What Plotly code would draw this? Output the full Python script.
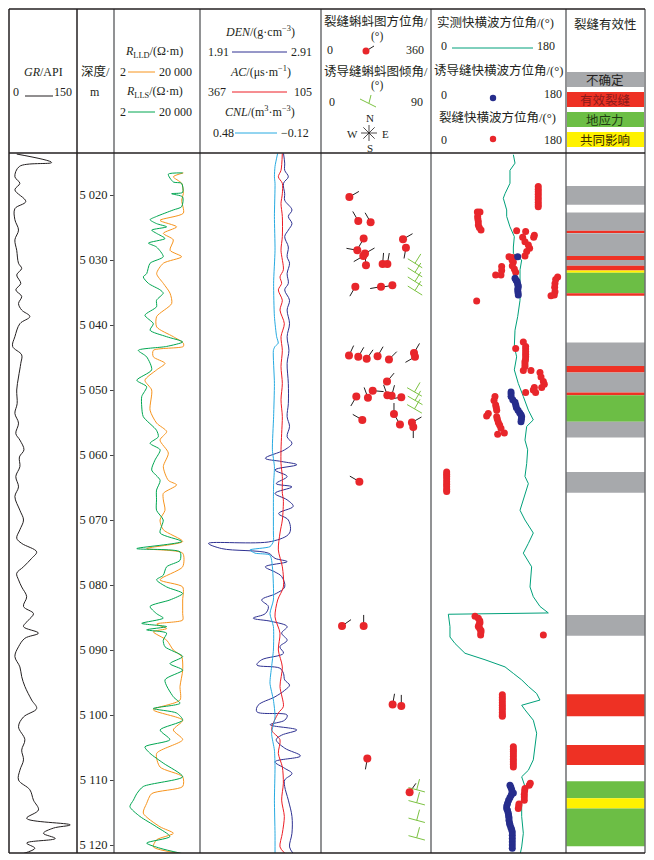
import math
import plotly.graph_objects as go

# ---------------- data ----------------
DEPTH_TICKS = [5020, 5030, 5040, 5050, 5060, 5070, 5080, 5090, 5100, 5110, 5120]
DEPTH_LABELS = ["5 020", "5 030", "5 040", "5 050", "5 060", "5 070", "5 080", "5 090", "5 100", "5 110", "5 120"]

GR_DEPTH = [5013.7, 5015.0, 5015.6, 5017.2, 5018.2, 5019.2, 5021.0, 5022.1, 5023.8, 5025.4,
            5026.9, 5028.5, 5030.5, 5031.3, 5032.3, 5033.6, 5034.6, 5035.6, 5036.7, 5037.7,
            5038.7, 5039.8, 5041.8, 5043.3, 5044.6, 5045.9, 5048.0, 5050.0, 5052.1, 5053.6,
            5055.1, 5056.7, 5057.7, 5059.2, 5060.3, 5061.8, 5063.3, 5064.9, 5066.4,
            5068.5, 5070.0, 5071.5, 5072.8, 5073.6, 5074.9, 5075.9, 5077.2, 5078.2, 5079.2,
            5080.3, 5081.8, 5083.3, 5084.4, 5085.4, 5086.4, 5087.4, 5088.2, 5089.5, 5091.0,
            5092.6, 5094.1, 5095.6, 5097.7, 5099.0, 5100.3, 5101.8, 5103.8, 5105.4, 5106.9,
            5108.5, 5110.0, 5111.5, 5113.1, 5114.6, 5115.9, 5116.9, 5117.4, 5118.2, 5119.0,
            5119.7, 5120.5, 5121.3]
GR_API = [17, 94, 23, 13, 24, 13, 37, 13, 13, 21,
          13, 17, 21, 28, 17, 26, 15, 28, 21, 28,
          46, 24, 13, 8, 28, 26, 21, 17, 18, 13,
          21, 15, 24, 33, 23, 24, 15, 21, 13,
          24, 32, 24, 17, 28, 61, 50, 32, 17, 21,
          28, 39, 32, 54, 43, 32, 65, 35, 21, 13,
          24, 28, 35, 50, 61, 32, 21, 35, 28, 32,
          24, 21, 46, 54, 65, 39, 135, 98, 76, 102,
          39, 57, 32]

LLS_DEPTH = [5016.6, 5016.8, 5018.0, 5018.2, 5019.6, 5019.8, 5020.3, 5021.8, 5022.3, 5023.3,
             5023.8, 5024.4, 5024.9, 5025.4, 5025.9, 5026.7, 5027.4, 5028.0, 5029.5, 5030.5,
             5032.1, 5032.6, 5033.6, 5034.6, 5035.1, 5036.2, 5037.2, 5038.5, 5039.8, 5040.8,
             5041.8, 5042.6, 5043.3, 5043.9, 5044.9, 5046.9, 5048.5, 5049.5, 5051.0, 5052.6,
             5054.1, 5056.2, 5057.2, 5058.2, 5059.2, 5060.8, 5062.3, 5063.9, 5065.4, 5066.9,
             5068.5, 5070.0, 5072.0, 5073.3, 5074.4, 5074.9, 5076.2, 5077.2, 5078.5, 5079.2,
             5080.3, 5081.3, 5082.3, 5083.3, 5084.4, 5085.1, 5085.9, 5086.4, 5086.9, 5087.4,
             5088.5, 5089.5, 5091.0, 5092.1, 5093.1, 5094.6, 5097.2, 5098.2, 5099.0, 5099.7,
             5100.8, 5102.3, 5103.8, 5104.9, 5105.9, 5107.4, 5109.5, 5111.0, 5112.1, 5113.1,
             5114.1, 5115.6, 5117.2, 5118.7, 5119.7, 5120.5, 5121.3]
LLS_OHM = [3130, 670, 1150, 2800, 3130, 960, 3130, 2800, 1150, 190,
           95, 190, 560, 113, 190, 470, 80, 190, 390, 95,
           66, 46, 80, 280, 390, 190, 190, 55, 135, 95,
           560, 3130, 560, 27, 66, 113, 23, 66, 39, 39,
           46, 190, 230, 95, 280, 160, 113, 280, 190, 190,
           190, 390, 280, 2800, 23, 2350, 2350, 560, 390, 190,
           560, 3130, 800, 95, 190, 390, 39, 560, 66, 560,
           390, 470, 3130, 800, 3130, 470, 1150, 2350, 135, 1640,
           3130, 280, 800, 55, 95, 390, 3130, 46, 23, 16,
           11, 32, 190, 800, 66, 280, 2800]

LLD_DEPTH = [5016.6, 5017.2, 5018.2, 5019.8, 5020.8, 5022.8, 5023.9, 5024.9, 5025.9, 5026.9,
             5028.5, 5029.5, 5030.5, 5032.1, 5033.6, 5035.1, 5036.7, 5038.7, 5040.3, 5041.8,
             5042.8, 5043.3, 5043.9, 5044.9, 5045.9, 5046.9, 5048.5, 5050.0, 5053.1, 5055.1,
             5056.4, 5057.7, 5059.7, 5061.8, 5063.9, 5064.6, 5065.9, 5066.9, 5068.5, 5070.0,
             5071.5, 5073.3, 5074.4, 5075.1, 5077.2, 5079.2, 5080.3, 5082.3, 5084.4, 5085.4,
             5086.0, 5086.7, 5087.2, 5088.5, 5090.0, 5091.0, 5093.1, 5095.6, 5097.7, 5099.2,
             5100.8, 5102.3, 5103.8, 5105.9, 5108.0, 5109.5, 5111.0, 5112.1, 5113.6, 5115.1,
             5117.2, 5118.2, 5119.2, 5120.3, 5121.3]
LLD_OHM = [3360, 1150, 2800, 3360, 2800, 3360, 276, 1640, 394, 1150,
           805, 2800, 394, 193, 394, 805, 962, 193, 193, 1150,
           3360, 3360, 135, 135, 471, 193, 55, 113, 95, 193,
           564, 276, 673, 394, 673, 1644, 394, 394, 471, 276,
           394, 3130, 66, 3130, 3130, 276, 3130, 3130, 3130, 3130,
           193, 564, 135, 564, 1150, 2800, 3130, 2350, 2350, 135,
           3130, 1150, 3130, 193, 276, 3130, 3130, 113, 66, 46,
           276, 1150, 193, 135, 2350]

DEN_DEPTH = [5013.6, 5015.1, 5016.2, 5017.2, 5018.2, 5019.8, 5020.8, 5022.3, 5023.3, 5024.4,
             5025.4, 5026.4, 5028.0, 5029.5, 5030.5, 5032.1, 5033.6, 5034.6, 5036.2, 5037.7,
             5039.8, 5041.8, 5043.9, 5045.9, 5049.0, 5052.1, 5054.1, 5055.6, 5057.2, 5058.2,
             5059.2, 5060.5, 5061.0, 5061.5, 5062.3, 5063.3, 5064.4, 5064.9, 5065.9,
             5066.9, 5067.9, 5069.0, 5070.0, 5072.0, 5073.3, 5073.6, 5074.4, 5075.1, 5075.9,
             5076.4, 5077.2, 5078.0, 5078.7, 5080.3, 5081.3, 5082.3, 5083.3, 5084.4, 5085.1,
             5085.6, 5086.4, 5087.4, 5088.5, 5089.5, 5090.5, 5091.5, 5092.3, 5092.8, 5093.6,
             5094.6, 5095.4, 5096.2, 5097.2, 5098.5, 5099.5, 5100.0, 5100.8, 5101.5, 5102.3,
             5103.1, 5103.8, 5105.1, 5106.3, 5107.2, 5108.2, 5109.0, 5110.0, 5111.0, 5113.1,
             5115.6, 5118.2, 5120.3, 5121.3]
DEN_G = [2.60, 2.61, 2.61, 2.64, 2.60, 2.61, 2.61, 2.67, 2.64, 2.67,
         2.64, 2.61, 2.64, 2.63, 2.65, 2.63, 2.64, 2.61, 2.65, 2.63,
         2.65, 2.63, 2.645, 2.63, 2.64, 2.64, 2.63, 2.65, 2.63, 2.67,
         2.61, 2.45, 2.585, 2.71, 2.53, 2.63, 2.54, 2.67, 2.53,
         2.63, 2.68, 2.56, 2.64, 2.65, 2.50, 1.98, 2.09, 2.475, 2.53,
         2.63, 2.45, 2.53, 2.585, 2.61, 2.54, 2.42, 2.475, 2.45, 2.35,
         2.50, 2.63, 2.585, 2.63, 2.57, 2.60, 2.42, 2.38, 2.57, 2.60,
         2.61, 2.65, 2.61, 2.53, 2.39, 2.38, 2.63, 2.61, 2.49, 2.71,
         2.585, 2.54, 2.61, 2.74, 2.53, 2.61, 2.67, 2.61, 2.61, 2.64,
         2.67, 2.67, 2.65, 2.68]

AC_DEPTH = [5013.6, 5016.2, 5017.2, 5018.2, 5019.8, 5021.3, 5023.3, 5026.4, 5028.5, 5031.5,
            5032.6, 5033.6, 5034.6, 5036.2, 5037.7, 5039.8, 5041.8, 5043.9, 5046.4, 5049.0,
            5051.5, 5054.1, 5056.7, 5059.2, 5061.3, 5063.3, 5065.9,
            5066.9, 5070.0, 5072.0, 5074.6, 5077.2, 5080.3, 5082.3, 5084.9, 5087.4, 5090.0,
            5092.6, 5095.6, 5098.7, 5099.7, 5102.3, 5103.8, 5105.9, 5108.0, 5110.5, 5113.1,
            5115.6, 5118.2, 5120.3, 5121.3]
AC_US = [188.7, 191.6, 197.4, 188.7, 188.7, 191.6, 188.7, 188.7, 191.6, 186.5,
         193.8, 190.2, 197.4, 188.7, 193.8, 184.4, 191.6, 188.7, 191.6, 188.7,
         191.6, 188.7, 190.2, 191.6, 191.6, 188.7, 188.7,
         186.5, 188.7, 193.8, 197.4, 188.7, 186.5, 198.8, 204.6, 193.8, 197.4,
         188.7, 193.8, 186.5, 197.4, 211.8, 193.8, 197.4, 188.7, 186.5, 190.2,
         184.4, 188.7, 193.8, 183.0]

CNL_DEPTH = [5013.6, 5015.6, 5017.2, 5018.2, 5023.3, 5028.5, 5033.6, 5038.7, 5041.8, 5042.8,
             5043.3, 5043.9, 5049.0, 5054.1, 5059.2, 5061.8, 5064.4,
             5066.9, 5072.0, 5073.3, 5074.1, 5074.6, 5075.1, 5075.4, 5077.2, 5082.3, 5084.4,
             5086.4, 5090.0, 5092.6, 5095.1, 5097.7, 5100.3, 5102.8, 5105.4, 5108.0, 5113.1,
             5118.2, 5121.3]
CNL_V = [0.095, 0.108, 0.111, 0.108, 0.111, 0.108, 0.115, 0.111, 0.100, 0.092,
         0.108, 0.116, 0.111, 0.115, 0.121, 0.111, 0.115,
         0.116, 0.116, 0.116, 0.133, 0.232, 0.207, 0.133, 0.121, 0.116, 0.133,
         0.116, 0.116, 0.125, 0.133, 0.116, 0.108, 0.125, 0.111, 0.108, 0.111,
         0.108, 0.108]

# fracture tadpoles: depth, dip (deg), azimuth (deg)
FRAC_TAD_DEPTH = [5020.3, 5024.0, 5024.2, 5026.7, 5028.5, 5029.0, 5029.4, 5030.8, 5030.6, 5030.6,
                  5026.8, 5028.1, 5034.1, 5034.1, 5033.9, 5044.7, 5044.9, 5045.2, 5044.8, 5045.3,
                  5044.3, 5044.9, 5048.7, 5051.0, 5051.2, 5050.1, 5050.8, 5050.9, 5051.1, 5054.6,
                  5053.7, 5055.3, 5055.0, 5055.7, 5064.1, 5086.3, 5086.3, 5098.4, 5098.6, 5106.7,
                  5111.9]
FRAC_TAD_DIP = [23.2, 30.5, 40.6, 34.9, 29.7, 36.0, 34.6, 36.8, 50.4, 54.3,
                67.1, 69.5, 28.1, 49.1, 58.4, 22.9, 30.5, 37.4, 46.3, 55.6,
                76.1, 76.9, 54.0, 28.9, 38.4, 42.3, 54.3, 57.8, 65.7, 33.8,
                59.7, 64.6, 74.4, 75.5, 31.4, 17.2, 34.9, 58.6, 65.7, 37.9,
                72.5]
FRAC_TAD_AZI = [60, 330, 330, 210, 280, 60, 240, 355, 5, 10,
                60, 190, 210, 260, 260, 25, 30, 35, 30, 45,
                30, 240, 40, 210, 340, 95, 340, 15, 260, 300,
                0, 330, 60, 180, 300, 55, 0, 10, 0, 190,
                35]

# induced fracture symbols: depth, dip, azimuth
IND_DEPTH = [5030.5, 5031.9, 5033.3, 5034.7, 5050.3, 5051.6, 5052.9, 5111.5, 5113.5, 5116.2, 5118.9]
IND_DIP = [76.9, 76.9, 76.9, 76.9, 76.5, 77.0, 76.5, 78.3, 78.3, 78.3, 78.3]
IND_AZI = [32, 32, 32, 32, 30, 30, 30, 15, 15, 15, 15]

# measured fast shear-wave azimuth
FS_DEPTH = [5013.8, 5015.1, 5016.2, 5018.2, 5019.8, 5020.5, 5022.3, 5023.3, 5024.9, 5026.4,
            5028.0, 5029.0, 5030.0, 5031.5, 5033.6, 5036.2, 5038.7, 5040.8, 5043.3, 5044.9,
            5046.9, 5049.0, 5051.0, 5053.1, 5054.6, 5055.6, 5057.7, 5059.2, 5061.3, 5063.3,
            5064.4, 5066.4, 5068.5, 5070.0, 5072.0, 5073.6, 5075.1, 5077.2, 5080.3, 5081.8,
            5083.3, 5084.3, 5084.5, 5086.4, 5088.0, 5089.0, 5090.5, 5091.5, 5092.6, 5093.6,
            5094.6, 5095.6, 5096.7, 5097.7, 5098.5, 5099.2, 5100.8, 5102.8, 5104.9, 5106.9,
            5108.5, 5109.5, 5111.0, 5113.1, 5115.6, 5118.2, 5120.3, 5121.5]
FS_AZI = [109.8, 112.0, 105.3, 105.3, 98.7, 96.4, 100.9, 100.9, 105.3, 111.1,
          109.8, 109.8, 120.9, 118.7, 118.7, 118.7, 115.6, 112.0, 111.1, 114.2,
          111.1, 116.4, 123.1, 129.8, 136.4, 127.6, 125.3, 128.9, 127.6, 125.3,
          129.8, 124.4, 118.7, 125.3, 136.4, 129.8, 123.1, 134.2, 132.0, 136.4,
          145.3, 156.4, 23.1, 25.3, 25.3, 32.0, 45.3, 72.0, 98.7, 109.8,
          120.9, 129.8, 140.9, 145.3, 120.9, 125.3, 136.4, 140.9, 138.7, 136.4,
          129.8, 120.9, 125.3, 120.9, 120.9, 123.1, 120.9, 118.7]

# induced-fracture fast shear-wave azimuth (blue dots)
IND_FS_DEPTH = [5029.5, 5032.8, 5033.1, 5033.3, 5033.7, 5034.0, 5034.3, 5034.6, 5035.0, 5035.4,
                5050.3, 5050.6, 5051.0, 5051.5, 5051.9, 5052.3, 5052.7, 5053.1, 5053.5, 5053.8,
                5054.1, 5054.5, 5054.9,
                5110.8, 5111.1, 5111.5, 5112.0, 5112.3, 5112.7, 5113.1, 5113.6, 5114.0, 5114.4,
                5114.7, 5115.1, 5115.5, 5115.8, 5116.2, 5116.6, 5116.9, 5117.3, 5117.6, 5118.0,
                5118.5, 5119.0, 5119.5, 5120.0, 5120.5]
IND_FS_AZI = [115.6, 112.0, 113.5, 114.7, 115.5, 116.4, 116.0, 115.6, 116.0, 116.4,
              106.7, 106.7, 106.7, 109.0, 112.0, 113.0, 113.8, 116.0, 118.2, 120.0,
              120.9, 120.5, 120.0,
              105.3, 106.5, 107.6, 109.8, 107.0, 105.3, 103.5, 102.0, 101.0, 100.9,
              102.0, 103.1, 103.5, 104.0, 104.0, 104.7, 105.3, 106.5, 107.5, 108.4,
              108.4, 108.4, 108.4, 108.4, 108.4]

# fracture fast shear-wave azimuth (red dots)
FRAC_FS_DEPTH = [5018.7, 5019.1, 5019.5, 5019.9, 5020.3, 5020.7, 5021.1, 5021.5, 5021.8,
                 5022.6, 5022.6, 5023.3, 5023.7, 5024.1, 5024.6, 5025.0, 5025.4,
                 5025.5, 5025.6, 5026.2, 5026.5, 5026.5, 5027.2, 5027.7, 5028.2, 5028.7, 5029.4,
                 5029.5, 5029.6, 5030.0, 5030.3, 5030.9, 5031.4, 5031.9,
                 5031.0, 5031.6, 5032.3, 5032.3,
                 5032.6, 5033.0, 5033.6, 5034.2, 5034.9, 5035.4, 5035.5,
                 5036.3,
                 5042.6, 5043.6, 5043.3, 5043.7, 5044.1, 5044.5, 5044.9, 5045.3, 5045.6, 5046.0,
                 5046.4, 5047.0, 5047.0,
                 5047.3, 5048.0, 5048.7, 5049.1, 5049.6, 5049.6, 5050.0, 5050.4, 5050.4,
                 5051.0, 5051.6, 5052.3, 5052.7, 5053.1, 5053.6, 5054.0, 5054.1, 5054.5, 5055.0,
                 5055.4, 5055.9, 5056.6, 5056.8,
                 5062.6, 5062.95, 5063.3, 5063.7, 5064.1, 5064.5, 5064.9, 5065.3, 5065.6,
                 5084.8, 5085.1, 5085.5, 5085.8, 5086.1, 5086.4, 5086.7, 5087.0, 5087.3, 5087.7,
                 5087.7,
                 5096.9, 5097.3, 5097.7, 5098.1, 5098.5, 5098.9, 5099.2, 5099.6, 5100.0, 5100.2,
                 5104.9, 5105.3, 5105.6, 5106.0, 5106.4, 5106.8, 5107.2, 5107.6, 5108.0,
                 5110.5, 5110.8, 5111.3, 5111.7, 5112.2, 5112.6, 5113.1, 5113.7, 5114.0, 5114.4]
FRAC_FS_AZI = [143, 143, 143, 143, 143, 143, 143, 143, 143,
               61.8, 65.3, 62.2, 62.5, 63.1, 63.1, 64.4, 66.7,
               114.2, 126.2, 137.8, 136.9, 122.2, 125.3, 129.8, 131.5, 127.6, 125.3,
               104.0, 108.4, 108.0, 109.8, 108.4, 111.1, 112.9,
               94.2, 94.2, 93.3, 86.2,
               168.9, 166.2, 165.3, 164.9, 165.3, 164.4, 160.0,
               60.9,
               123.1, 112.9, 126.2, 126.2, 126.2, 126.2, 126.2, 126.0, 125.3, 125.3,
               125.3, 123.1, 133.3,
               145.3, 146.7, 149.8, 151.1, 147.6, 137.8, 136.4, 139.5, 126.2,
               85.3, 84.0, 86.2, 87.0, 87.6, 76.4, 74.2, 87.6, 88.5, 89.8,
               91.5, 93.3, 97.8, 88.9,
               20.9, 20.9, 20.9, 20.9, 20.9, 20.9, 20.9, 20.9, 20.9,
               58.7, 63.1, 65.0, 65.3, 64.0, 63.1, 65.0, 66.7, 66.5, 66.2,
               149.8,
               95.1, 95.1, 95.1, 95.1, 95.1, 95.1, 95.1, 95.1, 95.1, 95.1,
               109.8, 109.8, 109.8, 109.8, 109.8, 109.8, 109.8, 109.8, 109.8,
               132.4, 131.0, 125.3, 124.8, 124.4, 124.4, 124.4, 117.3, 117.0, 116.4]

# fracture effectiveness intervals
EFF_TOP = [5018.6, 5022.7, 5025.5, 5025.9, 5029.4, 5030.0, 5030.9, 5031.6, 5031.95, 5035.1,
           5042.7, 5046.3, 5047.3, 5050.4, 5050.8, 5054.9, 5062.6, 5084.6, 5096.8, 5104.6,
           5110.2, 5112.8, 5114.4]
EFF_BOT = [5021.5, 5025.5, 5025.85, 5029.4, 5030.0, 5030.9, 5031.6, 5031.95, 5035.1, 5035.5,
           5046.3, 5047.3, 5050.4, 5050.8, 5054.9, 5057.3, 5065.8, 5087.8, 5100.2, 5107.7,
           5112.8, 5114.4, 5120.2]
EFF_CLASS = ["不确定", "不确定", "有效裂缝", "不确定", "有效裂缝", "不确定", "有效裂缝", "共同影响", "地应力", "有效裂缝",
             "不确定", "有效裂缝", "不确定", "有效裂缝", "地应力", "不确定", "不确定", "不确定", "有效裂缝", "有效裂缝",
             "地应力", "共同影响", "地应力"]
EFF_NAMES = ["不确定", "有效裂缝", "地应力", "共同影响"]

# ---------------- styling / layout ----------------
OFF = 8                      # page body margin of the browser
W, H = 654 - OFF, 860 - OFF  # figure size
COLS = [9, 77, 114, 200, 321, 431, 566, 645]
TOP, HDR, BOT = 9, 153, 853
D_TOP = 5020 - (195 - HDR) / 6.5
D_BOT = 5020 + (BOT - 195) / 6.5

C_GR = "#231f20"
C_LLD = "#F7941D"
C_LLS = "#00A651"
C_DEN = "#2E3192"
C_AC = "#ED1C24"
C_CNL = "#27AAE1"
C_FS = "#00A07A"
C_RED = "#E8262B"
C_BLUE = "#262D8C"
C_IND = "#7CC242"
EFF_COLORS = {"不确定": "#A7A9AC", "有效裂缝": "#EE3124", "地应力": "#6CBE45", "共同影响": "#FFF200"}
EFF_TEXT = {"不确定": "#231f20", "有效裂缝": "#8a1b1b", "地应力": "#1f3b12", "共同影响": "#3a2a00"}
SERIF = "Liberation Serif, Noto Sans CJK SC, serif"
GRID = "#6d6e71"


def px(x):
    return (x - OFF) / W


def py(y):
    return 1 - (y - OFF) / H


fig = go.Figure()

fig.add_trace(go.Scatter(x=GR_API, y=GR_DEPTH, xaxis="x", yaxis="y", mode="lines",
                         line=dict(color=C_GR, width=1, shape="spline", smoothing=1.0)))
fig.add_trace(go.Scatter(x=LLD_OHM, y=LLD_DEPTH, xaxis="x2", yaxis="y", mode="lines",
                         line=dict(color=C_LLD, width=1, shape="spline", smoothing=0.7)))
fig.add_trace(go.Scatter(x=LLS_OHM, y=LLS_DEPTH, xaxis="x2", yaxis="y", mode="lines",
                         line=dict(color=C_LLS, width=1, shape="spline", smoothing=0.7)))
fig.add_trace(go.Scatter(x=CNL_V, y=CNL_DEPTH, xaxis="x5", yaxis="y", mode="lines",
                         line=dict(color=C_CNL, width=1, shape="spline", smoothing=0.6)))
fig.add_trace(go.Scatter(x=AC_US, y=AC_DEPTH, xaxis="x4", yaxis="y", mode="lines",
                         line=dict(color=C_AC, width=1, shape="spline", smoothing=0.8)))
fig.add_trace(go.Scatter(x=DEN_G, y=DEN_DEPTH, xaxis="x3", yaxis="y", mode="lines",
                         line=dict(color=C_DEN, width=1, shape="spline", smoothing=1.0)))

# tadpoles
PX_PER_M = (BOT - HDR) / (D_BOT - D_TOP)
PX_PER_DIP = (COLS[5] - COLS[4]) / 90.0
TAIL = 11
tx, ty = [], []
for d, dip, az in zip(FRAC_TAD_DEPTH, FRAC_TAD_DIP, FRAC_TAD_AZI):
    a = math.radians(az)
    tx += [dip, dip + TAIL * math.sin(a) / PX_PER_DIP, None]
    ty += [d, d - TAIL * math.cos(a) / PX_PER_M, None]
fig.add_trace(go.Scatter(x=tx, y=ty, xaxis="x6", yaxis="y", mode="lines",
                         line=dict(color="#231f20", width=1)))

gx, gy = [], []
BODY, TICK = 17, 11
for d, dip, az in zip(IND_DEPTH, IND_DIP, IND_AZI):
    a = math.radians(az)
    ux, uy = math.cos(a), math.sin(a)
    gx += [dip - BODY / 2 * ux / PX_PER_DIP, dip + BODY / 2 * ux / PX_PER_DIP, None]
    gy += [d - BODY / 2 * uy / PX_PER_M, d + BODY / 2 * uy / PX_PER_M, None]
    gx += [dip, dip + TICK * math.sin(a) / PX_PER_DIP, None]
    gy += [d, d - TICK * math.cos(a) / PX_PER_M, None]
fig.add_trace(go.Scatter(x=gx, y=gy, xaxis="x6", yaxis="y", mode="lines",
                         line=dict(color=C_IND, width=1)))
fig.add_trace(go.Scatter(x=FRAC_TAD_DIP, y=FRAC_TAD_DEPTH, xaxis="x6", yaxis="y", mode="markers",
                         marker=dict(color=C_RED, size=8, line=dict(width=0))))

# fast shear track
fig.add_trace(go.Scatter(x=FS_AZI, y=FS_DEPTH, xaxis="x7", yaxis="y", mode="lines",
                         line=dict(color=C_FS, width=1)))
fig.add_trace(go.Scatter(x=FRAC_FS_AZI, y=FRAC_FS_DEPTH, xaxis="x7", yaxis="y", mode="markers",
                         marker=dict(color=C_RED, size=7, line=dict(width=0))))
fig.add_trace(go.Scatter(x=IND_FS_AZI, y=IND_FS_DEPTH, xaxis="x7", yaxis="y", mode="markers",
                         marker=dict(color=C_BLUE, size=7, line=dict(width=0))))

shapes = []
# effectiveness bands (data coords)
for t, b, c in zip(EFF_TOP, EFF_BOT, EFF_CLASS):
    shapes.append(dict(type="rect", xref="x8", yref="y", x0=0, x1=1, y0=t, y1=b,
                       fillcolor=EFF_COLORS[c], line=dict(width=0), layer="below"))


def hline(x0, y0, x1, y1, color=GRID, width=1.5):
    shapes.append(dict(type="line", xref="paper", yref="paper", x0=px(x0), y0=py(y0),
                       x1=px(x1), y1=py(y1), line=dict(color=color, width=width)))


def dot(cx, cy, r, color):
    shapes.append(dict(type="circle", xref="paper", yref="paper", x0=px(cx - r), x1=px(cx + r),
                       y0=py(cy + r), y1=py(cy - r), fillcolor=color, line=dict(width=0)))


# frame
for i, c in enumerate(COLS):
    col = "#231f20" if i < 2 else GRID
    hline(c, TOP, c, BOT, col, 1.5)
hline(COLS[0], TOP, COLS[-1], TOP, "#231f20", 1.5)
hline(COLS[0], HDR, COLS[-1], HDR, "#231f20", 1.5)
hline(COLS[0], BOT, COLS[-1], BOT, "#231f20", 1.5)

# header legend samples
hline(25, 96, 53, 96, C_GR, 1)
hline(128, 72, 155, 72, C_LLD, 1)
hline(128, 112, 155, 112, C_LLS, 1)
hline(232, 52, 287, 52, C_DEN, 1)
hline(232, 92, 287, 92, C_AC, 1)
hline(235, 133, 277, 133, C_CNL, 1)
hline(452, 48, 533, 48, C_FS, 1)
hline(366, 51, 374, 46, "#231f20", 1)
hline(360, 99, 376, 107, C_IND, 1)
hline(369, 103, 371, 95, C_IND, 1)
dot(366, 51, 3.5, C_RED)
dot(493, 98, 3.2, C_BLUE)
dot(493, 139, 3.2, C_RED)
# compass star
cx, cy, r = 369, 133, 8
for ang in (0, 45, 90, 135):
    a = math.radians(ang)
    hline(cx - r * math.sin(a), cy + r * math.cos(a), cx + r * math.sin(a), cy - r * math.cos(a), "#231f20", 0.8)

# effectiveness legend boxes
for name, (y0, y1) in zip(EFF_NAMES, [(72, 87), (92, 107), (112, 127), (132, 147)]):
    shapes.append(dict(type="rect", xref="paper", yref="paper", x0=px(COLS[6] + 1), x1=px(COLS[7] - 1),
                       y0=py(y1), y1=py(y0), fillcolor=EFF_COLORS[name], line=dict(width=0)))

ann = []


def txt(x, y, s, size=12, color="#231f20"):
    ann.append(dict(x=px(x), y=py(y), xref="paper", yref="paper", text=s, showarrow=False,
                    font=dict(family=SERIF, size=size, color=color), xanchor="center", yanchor="middle",
                    borderpad=0))


CJK = 12.5
txt(43, 72, "<i>GR</i>/API")
txt(16, 92, "0")
txt(63, 92, "150")
txt(95, 72, "深度/", CJK)
txt(95, 92, "m")
txt(154, 52, "<i>R</i><sub>LLD</sub>/(Ω·m)")
txt(123, 72, "2")
txt(175, 72, "20 000")
txt(154, 92, "<i>R</i><sub>LLS</sub>/(Ω·m)")
txt(123, 112, "2")
txt(175, 112, "20 000")
txt(260, 32, "<i>DEN</i>/(g·cm<sup>−3</sup>)")
txt(218, 52, "1.91")
txt(301, 52, "2.91")
txt(260, 72, "<i>AC</i>/(μs·m<sup>−1</sup>)")
txt(217, 92, "367")
txt(303, 92, "105")
txt(260, 112, "<i>CNL</i>/(m<sup>3</sup>·m<sup>−3</sup>)")
txt(223, 133, "0.48")
txt(295, 133, "−0.12")
txt(376, 21, "裂缝蝌蚪图方位角/", CJK)
txt(377, 36, "(°)", 11.5)
txt(330, 50, "0")
txt(415, 50, "360")
txt(376, 72, "诱导缝蝌蚪图倾角/", CJK)
txt(377, 86, "(°)", 11.5)
txt(332, 102, "0")
txt(417, 102, "90")
txt(370, 118, "N", 11)
txt(352, 134, "W", 11)
txt(385, 134, "E", 11)
txt(370, 148, "S", 11)
txt(496, 23, "实测快横波方位角/(°)", CJK)
txt(444, 46, "0")
txt(546, 46, "180")
txt(498, 70, "诱导缝快横波方位角/(°)", CJK)
txt(444, 95, "0")
txt(553, 94, "180")
txt(497, 117, "裂缝快横波方位角/(°)", CJK)
txt(444, 140, "0")
txt(553, 140, "180")
txt(605, 24, "裂缝有效性", CJK)
for name, yc in zip(EFF_NAMES, [80, 100, 120, 140]):
    txt(605, yc, name, CJK, EFF_TEXT[name])

ydom = [py(BOT), py(HDR)]


def xax(c0, c1, rng, typ="linear"):
    return dict(domain=[px(c0), px(c1)], range=rng, type=typ, visible=False, anchor="y",
                fixedrange=True, showgrid=False, zeroline=False)


fig.update_layout(
    width=W, height=H, margin=dict(l=0, r=0, t=0, b=0),
    paper_bgcolor="white", plot_bgcolor="rgba(0,0,0,0)", showlegend=False,
    xaxis=xax(COLS[0], COLS[1], [0, 150]),
    xaxis2=xax(COLS[2], COLS[3], [math.log10(2), math.log10(20000)], "log"),
    xaxis3=xax(COLS[3], COLS[4], [1.91, 2.91]),
    xaxis4=xax(COLS[3], COLS[4], [367, 105]),
    xaxis5=xax(COLS[3], COLS[4], [0.48, -0.12]),
    xaxis6=xax(COLS[4], COLS[5], [0, 90]),
    xaxis7=xax(COLS[5], COLS[6], [0, 180]),
    xaxis8=xax(COLS[6], COLS[7], [0, 1]),
    yaxis=dict(domain=ydom, range=[D_BOT, D_TOP], anchor="free", position=px(COLS[2]),
               tickvals=DEPTH_TICKS, ticktext=DEPTH_LABELS, ticks="outside", ticklen=4,
               tickwidth=1, tickcolor="#444", showgrid=False, zeroline=False, showline=False,
               tickfont=dict(family=SERIF, size=12.5, color="#231f20"), fixedrange=True),
    shapes=shapes, annotations=ann,
)

fig.write_html("out.html")
